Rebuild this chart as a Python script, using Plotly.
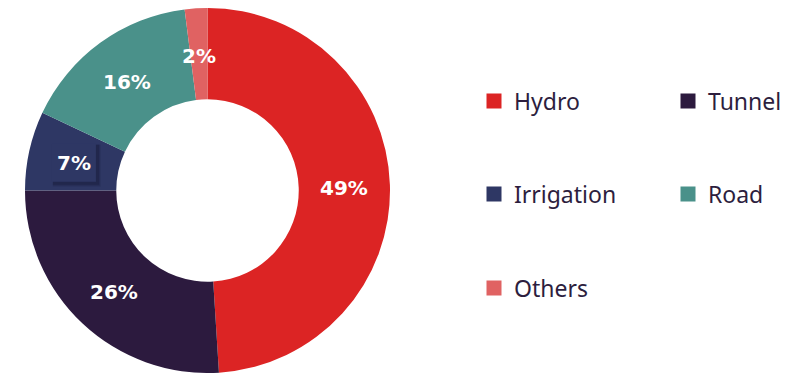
import math
import plotly.graph_objects as go

labels = ["Hydro", "Tunnel", "Irrigation", "Road", "Others"]
values = [49, 26, 7, 16, 2]
colors = ["#DC2424", "#2C1A3E", "#2E3764", "#4A918A", "#E06262"]

W, H = 807, 373
MT = 8
PH = H - MT
HOLE = 0.5

dom_x = [25 / W, 390 / W]
fig = go.Figure()
fig.add_trace(go.Pie(
    labels=labels, values=values, sort=False, direction="clockwise",
    hole=HOLE, marker=dict(colors=colors, line=dict(width=0)),
    textinfo="none",
    domain=dict(x=dom_x, y=[0, 1]),
    showlegend=False, hoverinfo="label+percent",
))

# percentage labels at the middle of each ring segment
cx_px = (dom_x[0] + dom_x[1]) / 2 * W
cy_px = MT + PH / 2
R = min((dom_x[1] - dom_x[0]) * W, PH) / 2
r_mid = R * (1 + HOLE) / 2
total = sum(values)
cum = 0
annotations = []
shapes = []
lab_font = dict(family="DejaVu Sans", size=20, color="white", weight="bold")
for i, v in enumerate(values):
    mid = (cum + v / 2) / total * 2 * math.pi
    cum += v
    px = cx_px + r_mid * math.sin(mid)
    py = cy_px - r_mid * math.cos(mid) + 2
    txt = f"{round(v / total * 100)}%"
    if labels[i] == "Irrigation":
        # soft drop-shadow box behind this label
        for k, a in [(5, 0.10), (4, 0.14), (3, 0.20)]:
            shapes.append(dict(type="rect", xref="paper", yref="paper", layer="above",
                               x0=(px - 22 + 1) / W, x1=(px + 22 + k) / W,
                               y0=(H - (py + 19 + k)) / PH, y1=(H - (py - 19 + 1)) / PH,
                               fillcolor=f"rgba(15,15,40,{a})", line=dict(width=0)))
        shapes.append(dict(type="rect", xref="paper", yref="paper", layer="above",
                           x0=(px - 22) / W, x1=(px + 22) / W,
                           y0=(H - (py + 19)) / PH, y1=(H - (py - 19)) / PH,
                           fillcolor=colors[i], line=dict(width=0)))
    annotations.append(dict(xref="paper", yref="paper", x=px / W, y=(H - py) / PH,
                            xanchor="center", yanchor="middle", showarrow=False,
                            text=txt, font=lab_font))

# legend entries (two columns, three rows)
pos_px = [(474, 101), (668, 101), (474, 194), (668, 194), (474, 288)]
layout_legends = {}
for i, (lab, col) in enumerate(zip(labels, colors)):
    key = "legend" if i == 0 else f"legend{i + 1}"
    fig.add_trace(go.Scatter(
        x=[None], y=[None], mode="markers", name=lab, legend=key,
        marker=dict(symbol="square", size=15, color=col, line=dict(width=0)),
    ))
    px, py = pos_px[i]
    layout_legends[key] = dict(
        x=px / W, y=(H - py) / PH, xanchor="left", yanchor="middle",
        bgcolor="rgba(0,0,0,0)", borderwidth=0,
        font=dict(family="Noto Sans", size=23, color="#2D1E3E"),
    )

fig.update_layout(
    width=W, height=H,
    margin=dict(l=0, r=0, t=MT, b=0),
    paper_bgcolor="white", plot_bgcolor="white",
    xaxis=dict(visible=False), yaxis=dict(visible=False),
    annotations=annotations, shapes=shapes,
    **layout_legends,
)

fig.write_html("out.html")
